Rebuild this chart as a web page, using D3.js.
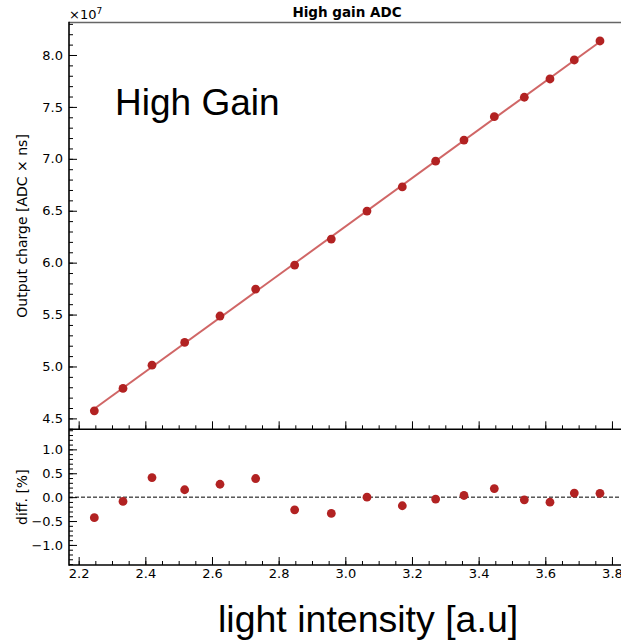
<!DOCTYPE html>
<html>
<head>
<meta charset="utf-8">
<script src="https://cdn.jsdelivr.net/npm/d3@7/dist/d3.min.js"></script>
<style>
  html, body { margin: 0; padding: 0; background: #fff; }
  svg { display: block; }
  .tick text { font-family: "DejaVu Sans", sans-serif; font-size: 13px; fill: #000; }
  .tick line { stroke: #000; stroke-width: 1; }
</style>
</head>
<body>
<svg id="chart" width="621" height="640"></svg>
<script>
// Light intensity of each scan step [a.u]
const intensity = [2.247, 2.333, 2.420, 2.518, 2.624, 2.731, 2.848, 2.958, 3.065,
                   3.171, 3.271, 3.356, 3.447, 3.537, 3.614, 3.687, 3.764];
// Output charge in units of 1e7 ADC x ns
const charge = [4.573, 4.789, 5.013, 5.232, 5.486, 5.746, 5.977, 6.227, 6.497,
                6.729, 6.977, 7.181, 7.406, 7.593, 7.769, 7.952, 8.135];
// Relative deviation from the linear fit [%]
const diffPct = [-0.43, -0.09, 0.41, 0.155, 0.27, 0.39, -0.265, -0.34, 0.0,
                 -0.18, -0.04, 0.035, 0.18, -0.055, -0.105, 0.085, 0.08];

const xMajor = [2.2, 2.4, 2.6, 2.8, 3.0, 3.2, 3.4, 3.6, 3.8];
const chargeMajor = [4.5, 5.0, 5.5, 6.0, 6.5, 7.0, 7.5, 8.0];
const diffMajor = [-1.0, -0.5, 0.0, 0.5, 1.0];

const svg = d3.select("#chart");

const left = 69, right = 625.3;
const topMain = 22.5, bottomMain = 429.3, bottomDiff = 565;

const x = d3.scaleLinear().domain([2.171, 3.840]).range([left, right]);
const yMain = d3.scaleLinear().domain([4.395, 8.313]).range([bottomMain, topMain]);
const yDiff = d3.scaleLinear().domain([-1.42, 1.42]).range([bottomDiff, bottomMain]);

const xMinor = d3.range(2.2, 3.8001, 0.05);
const chargeMinor = d3.range(4.4, 8.3001, 0.1);
const diffMinor = d3.range(-1.4, 1.4001, 0.1);

// least-squares straight line through the charge points
const mx = d3.mean(intensity), my = d3.mean(charge);
const slope = d3.sum(intensity, (v, i) => (v - mx) * (charge[i] - my)) /
              d3.sum(intensity, v => (v - mx) * (v - mx));
const intercept = my - slope * mx;
const fitEnds = [d3.min(intensity), d3.max(intensity)];

function styleAxis(g) {
  g.select(".domain").remove();
}

// ---- main panel ----
svg.append("g").attr("transform", `translate(${left},0)`)
  .call(d3.axisLeft(yMain).tickValues(chargeMinor).tickSizeInner(-4).tickSizeOuter(0).tickFormat(""))
  .call(styleAxis);
svg.append("g").attr("transform", `translate(${left},0)`)
  .call(d3.axisLeft(yMain).tickValues(chargeMajor).tickSizeInner(-8).tickSizeOuter(0)
    .tickPadding(6).tickFormat(d3.format(".1f")))
  .call(styleAxis);
svg.append("g").attr("transform", `translate(0,${bottomMain})`)
  .call(d3.axisBottom(x).tickValues(xMinor).tickSizeInner(-4).tickSizeOuter(0).tickFormat(""))
  .call(styleAxis);
svg.append("g").attr("transform", `translate(0,${bottomMain})`)
  .call(d3.axisBottom(x).tickValues(xMajor).tickSizeInner(-8).tickSizeOuter(0).tickFormat(""))
  .call(styleAxis);

svg.append("line")
  .attr("x1", x(fitEnds[0])).attr("x2", x(fitEnds[1]))
  .attr("y1", yMain(intercept + slope * fitEnds[0]))
  .attr("y2", yMain(intercept + slope * fitEnds[1]))
  .attr("stroke", "#d06666").attr("stroke-width", 2);

svg.append("g").selectAll("circle").data(intensity).join("circle")
  .attr("cx", d => x(d)).attr("cy", (d, i) => yMain(charge[i]))
  .attr("r", 4.4).attr("fill", "#b22222");

// ---- difference panel ----
svg.append("g").attr("transform", `translate(${left},0)`)
  .call(d3.axisLeft(yDiff).tickValues(diffMinor).tickSizeInner(-4).tickSizeOuter(0).tickFormat(""))
  .call(styleAxis);
svg.append("g").attr("transform", `translate(${left},0)`)
  .call(d3.axisLeft(yDiff).tickValues(diffMajor).tickSizeInner(-8).tickSizeOuter(0)
    .tickPadding(6).tickFormat(d3.format(".1f")))
  .call(styleAxis);
svg.append("g").attr("transform", `translate(0,${bottomDiff})`)
  .call(d3.axisBottom(x).tickValues(xMinor).tickSizeInner(-4).tickSizeOuter(0).tickFormat(""))
  .call(styleAxis);
svg.append("g").attr("transform", `translate(0,${bottomDiff})`)
  .call(d3.axisBottom(x).tickValues(xMajor).tickSizeInner(-8).tickSizeOuter(0)
    .tickPadding(3.5).tickFormat(d3.format(".1f")))
  .call(styleAxis);

svg.append("line")
  .attr("x1", left).attr("x2", right)
  .attr("y1", yDiff(0)).attr("y2", yDiff(0))
  .attr("stroke", "#000").attr("stroke-width", 1).attr("stroke-dasharray", "4,2");

svg.append("g").selectAll("circle").data(intensity).join("circle")
  .attr("cx", d => x(d)).attr("cy", (d, i) => yDiff(diffPct[i]))
  .attr("r", 4.4).attr("fill", "#b22222");

// ---- frame lines ----
svg.append("line").attr("x1", left).attr("x2", right).attr("y1", topMain).attr("y2", topMain)
  .attr("stroke", "#666").attr("stroke-width", 1.6);
svg.append("line").attr("x1", left).attr("x2", left).attr("y1", topMain - 0.8).attr("y2", bottomDiff + 0.8)
  .attr("stroke", "#000").attr("stroke-width", 1.6);
svg.append("line").attr("x1", left).attr("x2", right).attr("y1", bottomMain).attr("y2", bottomMain)
  .attr("stroke", "#000").attr("stroke-width", 1.6);
svg.append("line").attr("x1", left).attr("x2", right).attr("y1", bottomDiff).attr("y2", bottomDiff)
  .attr("stroke", "#000").attr("stroke-width", 1.6);

// ---- texts ----
svg.append("text").attr("x", 347).attr("y", 16.5).attr("text-anchor", "middle")
  .style("font-family", "DejaVu Sans, sans-serif").style("font-size", "13.5px").style("font-weight", "bold")
  .text("High gain ADC");

const mult = svg.append("text").attr("x", 69).attr("y", 18.5)
  .style("font-family", "DejaVu Sans, sans-serif").style("font-size", "13px");
mult.append("tspan").text("×10");
mult.append("tspan").attr("dy", -5).style("font-size", "9px").text("7");

svg.append("text").attr("x", 115).attr("y", 114.5)
  .style("font-family", "Liberation Sans, Arial, sans-serif").style("font-size", "37px")
  .text("High Gain");

svg.append("text").attr("transform", `translate(26.5,${(topMain + bottomMain) / 2}) rotate(-90)`)
  .attr("text-anchor", "middle")
  .style("font-family", "DejaVu Sans, sans-serif").style("font-size", "14px")
  .text("Output charge [ADC × ns]");

svg.append("text").attr("transform", `translate(26.5,${(bottomMain + bottomDiff) / 2}) rotate(-90)`)
  .attr("text-anchor", "middle")
  .style("font-family", "DejaVu Sans, sans-serif").style("font-size", "14px")
  .text("diff. [%]");

svg.append("text").attr("x", 218).attr("y", 632)
  .style("font-family", "Liberation Sans, Arial, sans-serif").style("font-size", "37.5px")
  .text("light intensity [a.u]");
</script>
</body>
</html>
